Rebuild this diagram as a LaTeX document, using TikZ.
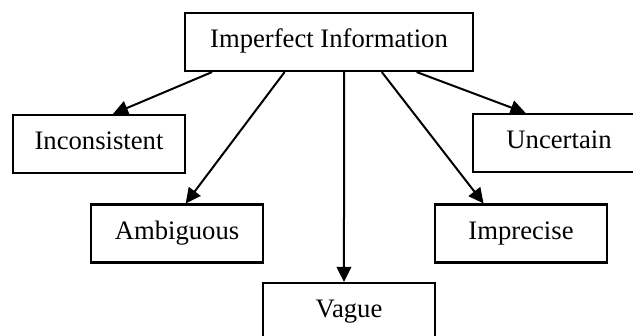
\documentclass[tikz,border=0pt]{standalone}
\usepackage{fontspec}
\setmainfont{Liberation Serif}
\usetikzlibrary{arrows.meta, calc}
\tikzstyle{box}=[draw,line width=0.95pt,minimum width=77.4pt,minimum height=26.1pt,inner sep=0pt,text height=8pt,text depth=2.8pt,font=\fontsize{12}{14}\selectfont]
\tikzstyle{wide}=[box,minimum width=129.6pt]
\tikzstyle{arr}=[-{Triangle[length=6.8pt,width=6.6pt]},line width=0.9pt]
\tikzstyle{px}=[x=0.45pt,y=-0.45pt]

\begin{document}
\begin{tikzpicture}[px]
  \useasboundingbox (0,0) rectangle (633,336);
  \node[wide] (top) at (329,42) {Imperfect Information};
  \node[box] (inc) at (99,144) {Inconsistent};
  \node[box] (unc) at (559,143) {Uncertain};
  \node[box] (amb) at (177,233.5) {Ambiguous};
  \node[box] (imp) at (521,233.5) {Imprecise};
  \node[box] (vag) at (349,312) {Vague};
  % arrows leave the bottom of the top box
  \foreach \n/\a/\b in {inc/.097/.58, amb/.347/.55, vag/.552/.471, imp/.682/.285, unc/.802/.308}
    {\draw[arr] ($(top.south west)!\a!(top.south east)$) -- ($(\n.north west)!\b!(\n.north east)$);}
\end{tikzpicture}
\end{document}
